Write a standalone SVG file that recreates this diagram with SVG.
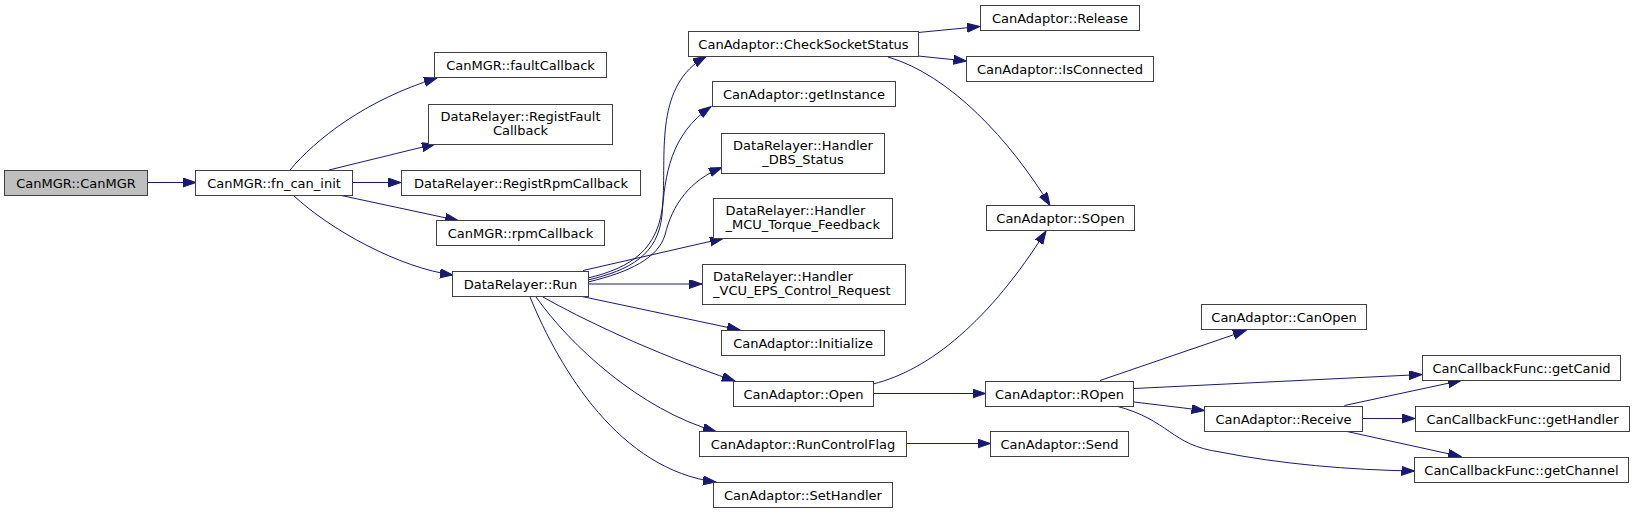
<svg xmlns="http://www.w3.org/2000/svg" width="1635" height="513" viewBox="0 0 1635 513">
<style>
.n rect{fill:#ffffff;stroke:#404040;stroke-width:1}
.n.root rect{fill:#bfbfbf}
.n text{font-family:"DejaVu Sans",sans-serif;font-size:13px;fill:#000000;text-anchor:middle}
.n text.l{text-anchor:start}
.e path{fill:none;stroke:#191970;stroke-width:1;marker-end:url(#ah)}
</style>
<defs>
<marker id="ah" markerUnits="userSpaceOnUse" markerWidth="14" markerHeight="10" refX="13" refY="4.5" orient="auto">
<path d="M0,0 L13,4.5 L0,9 z" fill="#191970" stroke="#191970" stroke-width="1"/>
</marker>
</defs>
<rect x="0" y="0" width="1635" height="513" fill="#ffffff"/>
<g id="edges" class="e">
<path d="M148,182.5 L196,182.5"/>
<path d="M290,170 C315,140 365,100 437,78"/>
<path d="M329,170 L435,144"/>
<path d="M353,182.5 L401,182.5"/>
<path d="M339,195 L458,220.5"/>
<path d="M293,195 C330,230 400,268 453,275"/>
<path d="M588,278 C630,268 660,250 663,200 C666,150 655,85 706,56.5"/>
<path d="M588,280 C630,270 658,255 662,215 C665,175 670,135 711,106.5"/>
<path d="M588,282 C630,272 658,258 665,235 C672,205 690,180 722,167.5"/>
<path d="M583,270.5 L723,238.5"/>
<path d="M588,284 L702,284"/>
<path d="M582,296.5 L740,330"/>
<path d="M543,297 C580,318 650,352 735,381"/>
<path d="M536,297 C570,345 640,410 716,431.5"/>
<path d="M530,297 C560,370 620,470 716,482"/>
<path d="M918,32.5 L980,26.5"/>
<path d="M918,56 L966.5,61"/>
<path d="M888,57 C950,75 1010,140 1050,205.5"/>
<path d="M873,384 C930,370 990,320 1046,231"/>
<path d="M873,393.5 L985.5,393.5"/>
<path d="M906.5,443.5 L990.5,443.5"/>
<path d="M1100,380.5 L1246,330.5"/>
<path d="M1134,388.5 L1422,374.5"/>
<path d="M1134,402 L1204.5,410.5"/>
<path d="M1116,406 C1170,420 1170,445 1220,452 C1280,464 1350,470 1414.5,471"/>
<path d="M1344.5,405.5 L1461,380.5"/>
<path d="M1363,418.5 L1415,418.5"/>
<path d="M1347,431.5 L1461,456.5"/>
</g>
<g id="n_canmgr" class="n root"><rect x="4.5" y="170.5" width="143" height="25"/><text x="76" y="187.5">CanMGR::CanMGR</text></g>
<g id="n_fn_can_init" class="n"><rect x="195.5" y="170.5" width="157" height="25"/><text x="274" y="187.5">CanMGR::fn_can_init</text></g>
<g id="n_faultCallback" class="n"><rect x="434.5" y="52.5" width="172" height="25"/><text x="520.5" y="69.5">CanMGR::faultCallback</text></g>
<g id="n_registFault" class="n"><rect x="428.5" y="104.5" width="184" height="40"/><text x="520.5" y="120.5">DataRelayer::RegistFault</text><text x="520.5" y="134.5">Callback</text></g>
<g id="n_registRpm" class="n"><rect x="401.5" y="170.5" width="239" height="25"/><text x="521" y="187.5">DataRelayer::RegistRpmCallback</text></g>
<g id="n_rpmCallback" class="n"><rect x="436.5" y="220.5" width="168" height="25"/><text x="520.5" y="237.5">CanMGR::rpmCallback</text></g>
<g id="n_run" class="n"><rect x="452.5" y="271.5" width="136" height="25"/><text x="520.5" y="288.5">DataRelayer::Run</text></g>
<g id="n_checkSocket" class="n"><rect x="688.5" y="31.5" width="230" height="25"/><text x="803.5" y="48.5">CanAdaptor::CheckSocketStatus</text></g>
<g id="n_getInstance" class="n"><rect x="712.5" y="81.5" width="183" height="25"/><text x="804" y="98.5">CanAdaptor::getInstance</text></g>
<g id="n_dbs" class="n"><rect x="721.5" y="133.5" width="163" height="40"/><text x="803" y="149.5">DataRelayer::Handler</text><text x="803" y="163.5">_DBS_Status</text></g>
<g id="n_mcu" class="n"><rect x="713.5" y="198.5" width="179" height="40"/><text class="l" x="725.5" y="214.5">DataRelayer::Handler</text><text class="l" x="725.5" y="228.5">_MCU_Torque_Feedback</text></g>
<g id="n_vcu" class="n"><rect x="702.5" y="264.5" width="203" height="40"/><text class="l" x="713" y="280.5">DataRelayer::Handler</text><text class="l" x="713" y="294.5">_VCU_EPS_Control_Request</text></g>
<g id="n_initialize" class="n"><rect x="721.5" y="330.5" width="163" height="25"/><text x="803" y="347.5">CanAdaptor::Initialize</text></g>
<g id="n_open" class="n"><rect x="733.5" y="381.5" width="140" height="25"/><text x="803.5" y="398.5">CanAdaptor::Open</text></g>
<g id="n_runControlFlag" class="n"><rect x="699.5" y="431.5" width="207" height="25"/><text x="803" y="448.5">CanAdaptor::RunControlFlag</text></g>
<g id="n_setHandler" class="n"><rect x="713.5" y="482.5" width="179" height="25"/><text x="803" y="499.5">CanAdaptor::SetHandler</text></g>
<g id="n_release" class="n"><rect x="980.5" y="5.5" width="159" height="25"/><text x="1060" y="22.5">CanAdaptor::Release</text></g>
<g id="n_isConnected" class="n"><rect x="966.5" y="56.5" width="187" height="25"/><text x="1060" y="73.5">CanAdaptor::IsConnected</text></g>
<g id="n_sopen" class="n"><rect x="986.5" y="205.5" width="148" height="25"/><text x="1060.5" y="222.5">CanAdaptor::SOpen</text></g>
<g id="n_ropen" class="n"><rect x="985.5" y="381.5" width="148" height="25"/><text x="1059.5" y="398.5">CanAdaptor::ROpen</text></g>
<g id="n_send" class="n"><rect x="990.5" y="431.5" width="138" height="25"/><text x="1059.5" y="448.5">CanAdaptor::Send</text></g>
<g id="n_canOpen" class="n"><rect x="1201.5" y="304.5" width="165" height="25"/><text x="1284" y="321.5">CanAdaptor::CanOpen</text></g>
<g id="n_receive" class="n"><rect x="1204.5" y="406.5" width="158" height="25"/><text x="1283.5" y="423.5">CanAdaptor::Receive</text></g>
<g id="n_getCanid" class="n"><rect x="1422.5" y="355.5" width="198" height="25"/><text x="1521.5" y="372.5">CanCallbackFunc::getCanid</text></g>
<g id="n_getHandler" class="n"><rect x="1415.5" y="406.5" width="214" height="25"/><text x="1522.5" y="423.5">CanCallbackFunc::getHandler</text></g>
<g id="n_getChannel" class="n"><rect x="1414.5" y="457.5" width="214" height="25"/><text x="1521.5" y="474.5">CanCallbackFunc::getChannel</text></g>
</svg>
